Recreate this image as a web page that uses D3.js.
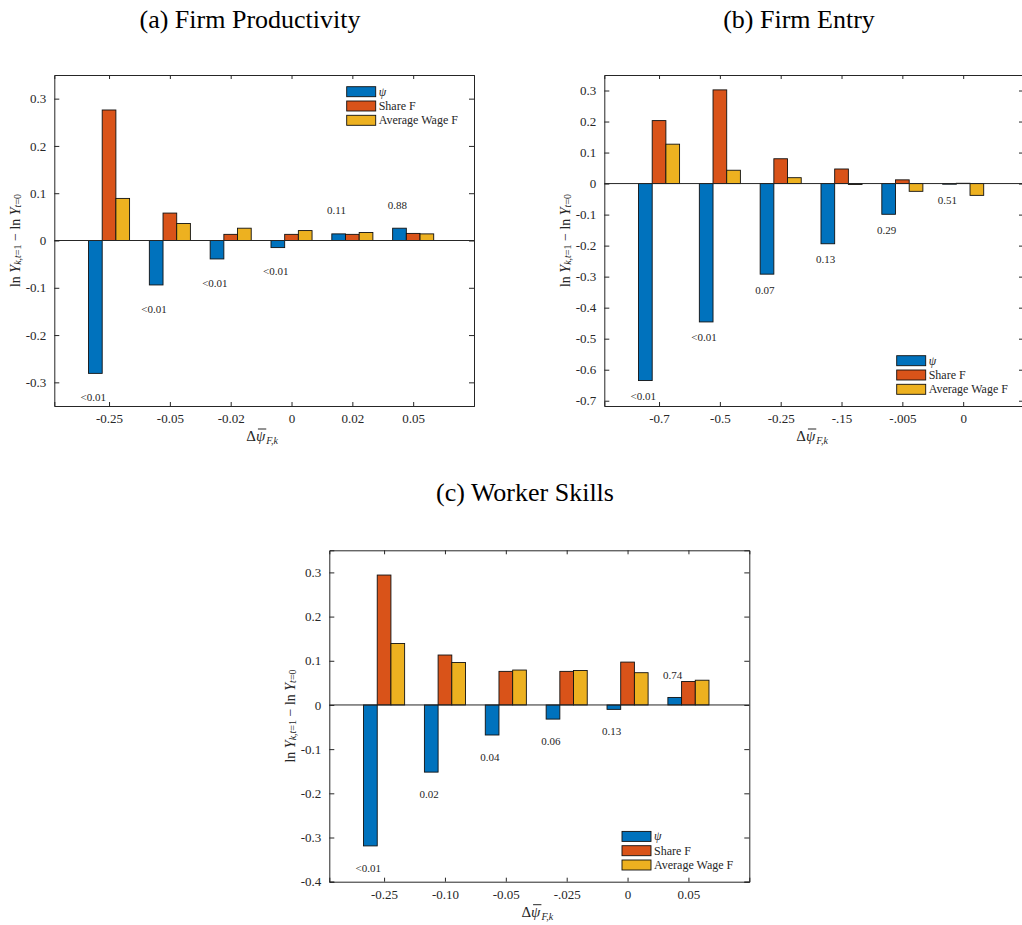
<!DOCTYPE html>
<html>
<head>
<meta charset="utf-8">
<script src="https://cdn.jsdelivr.net/npm/d3@7"></script>
<style>
  body { margin: 0; background: #fff; }
  svg { display: block; }
  text { font-family: "Liberation Serif", "Times New Roman", serif; fill: #262626; }
</style>
</head>
<body>
<svg id="chart" width="1022" height="925"></svg>
<script>
// ---- data ----
const seriesNames = ["\u03C8", "Share F", "Average Wage F"];
const colors = ["#0072BD", "#D95319", "#EDB120"];

// (a) Firm Productivity
const catsA = ["-0.25", "-0.05", "-0.02", "0", "0.02", "0.05"];
const psiA = [-0.281, -0.094, -0.039, -0.015, 0.014, 0.026];
const shareA = [0.276, 0.058, 0.013, 0.013, 0.013, 0.015];
const wageA = [0.089, 0.036, 0.026, 0.021, 0.017, 0.014];
const pvalA = ["<0.01", "<0.01", "<0.01", "<0.01", "0.11", "0.88"];
const yTicksA = [-0.3, -0.2, -0.1, 0, 0.1, 0.2, 0.3];

// (b) Firm Entry
const catsB = ["-0.7", "-0.5", "-0.25", "-.15", "-.005", "0"];
const psiB = [-0.635, -0.446, -0.292, -0.194, -0.099, -0.002];
const shareB = [0.203, 0.302, 0.080, 0.047, 0.012, 0.001];
const wageB = [0.127, 0.043, 0.019, -0.003, -0.025, -0.038];
const pvalB = ["<0.01", "<0.01", "0.07", "0.13", "0.29", "0.51"];
const yTicksB = [-0.7, -0.6, -0.5, -0.4, -0.3, -0.2, -0.1, 0, 0.1, 0.2, 0.3];

// (c) Worker Skills
const catsC = ["-0.25", "-0.10", "-0.05", "-.025", "0", "0.05"];
const psiC = [-0.319, -0.152, -0.068, -0.032, -0.010, 0.017];
const shareC = [0.294, 0.113, 0.076, 0.076, 0.097, 0.053];
const wageC = [0.139, 0.096, 0.079, 0.078, 0.073, 0.056];
const pvalC = ["<0.01", "0.02", "0.04", "0.06", "0.13", "0.74"];
const yTicksC = [-0.4, -0.3, -0.2, -0.1, 0, 0.1, 0.2, 0.3];

const svg = d3.select("#chart");
const axisColor = "#262626";
const barW = 0.225;   // bar width in category units

const panels = [
  {title: "(a) Firm Productivity", titleX: 250, titleY: 28,
   box: {left: 54.3, right: 474, top: 75, bottom: 406},
   ydom: [-0.35, 0.35], yticks: yTicksA, cats: catsA,
   vals: [psiA, shareA, wageA], pvals: pvalA, legend: "top"},
  {title: "(b) Firm Entry", titleX: 799, titleY: 28,
   box: {left: 604.3, right: 1024, top: 75, bottom: 406},
   ydom: [-0.717, 0.35], yticks: yTicksB, cats: catsB,
   vals: [psiB, shareB, wageB], pvals: pvalB, legend: "bottom"},
  {title: "(c) Worker Skills", titleX: 525, titleY: 501,
   box: {left: 329.3, right: 749.3, top: 550.3, bottom: 881.7},
   ydom: [-0.4, 0.35], yticks: yTicksC, cats: catsC,
   vals: [psiC, shareC, wageC], pvals: pvalC, legend: "bottom"}
];

const fmt = d => d === 0 ? "0" : String(+d.toFixed(1));

panels.forEach(drawPanel);

function drawPanel(p) {
  const b = p.box;
  const x = d3.scaleLinear().domain([0.1, 7]).range([b.left, b.right]);
  const y = d3.scaleLinear().domain(p.ydom).range([b.bottom, b.top]);
  const idx = d3.range(1, p.cats.length + 1);

  svg.append("text")
    .attr("x", p.titleX).attr("y", p.titleY)
    .attr("text-anchor", "middle")
    .style("font-size", "26px").style("fill", "#000")
    .text(p.title);

  const g = svg.append("g");

  // bars
  p.vals.forEach((vals, s) => {
    g.append("g").selectAll("rect")
      .data(vals)
      .join("rect")
      .attr("x", (v, i) => x(idx[i] + (s - 1.5) * barW))
      .attr("width", x(barW) - x(0))
      .attr("y", v => y(Math.max(0, v)))
      .attr("height", v => Math.abs(y(v) - y(0)))
      .attr("fill", colors[s])
      .attr("stroke", "#111")
      .attr("stroke-width", 0.9);
  });

  // baseline
  g.append("line")
    .attr("x1", b.left).attr("x2", b.right)
    .attr("y1", y(0)).attr("y2", y(0))
    .attr("stroke", axisColor).attr("stroke-width", 1);

  // p-value annotations
  g.append("g").selectAll("text")
    .data(p.pvals)
    .join("text")
    .attr("x", (t, i) => x(idx[i] - barW - 0.035))
    .attr("y", (t, i) => {
      const v = p.vals[0][i];
      return y(v < 0 ? v - 0.05 : v + 0.05);
    })
    .attr("text-anchor", "middle")
    .attr("dominant-baseline", "central")
    .style("font-size", "11px")
    .text(t => t);

  // axes (MATLAB style: box on, ticks inside)
  const xAxis = d3.axisBottom(x).tickValues(idx).tickFormat((d, i) => p.cats[i]).tickSize(-4).tickPadding(8);
  const xTop = d3.axisTop(x).tickValues(idx).tickFormat("").tickSize(-4);
  const yAxis = d3.axisLeft(y).tickValues(p.yticks).tickFormat(fmt).tickSize(-5).tickPadding(8);
  const yRight = d3.axisRight(y).tickValues(p.yticks).tickFormat("").tickSize(-5);

  const ax = [
    g.append("g").attr("transform", `translate(0,${b.bottom})`).call(xAxis),
    g.append("g").attr("transform", `translate(0,${b.top})`).call(xTop),
    g.append("g").attr("transform", `translate(${b.left},0)`).call(yAxis),
    g.append("g").attr("transform", `translate(${b.right},0)`).call(yRight)
  ];
  ax.forEach(a => {
    a.select(".domain").attr("stroke", axisColor);
    a.selectAll(".tick line").attr("stroke", axisColor);
    a.selectAll(".tick text")
      .style("font-family", "'Liberation Serif', serif")
      .style("font-size", "13px")
      .attr("fill", axisColor);
  });

  // y label
  const cy = (b.top + b.bottom) / 2;
  const yl = g.append("text")
    .attr("transform", `translate(${b.left - 39},${cy}) rotate(-90)`)
    .attr("text-anchor", "middle")
    .attr("dominant-baseline", "central")
    .style("font-size", "14px");
  yl.append("tspan").text("ln ");
  yl.append("tspan").style("font-style", "italic").text("Y");
  yl.append("tspan").attr("baseline-shift", "-25%").style("font-size", "10px").style("font-style", "italic").text("k,t");
  yl.append("tspan").attr("baseline-shift", "-25%").style("font-size", "10px").text("=1");
  yl.append("tspan").text(" \u2212 ln ");
  yl.append("tspan").style("font-style", "italic").text("Y");
  yl.append("tspan").attr("baseline-shift", "-25%").style("font-size", "10px").style("font-style", "italic").text("t");
  yl.append("tspan").attr("baseline-shift", "-25%").style("font-size", "10px").text("=0");

  // x label: Δ ψ(bar) _{F,k}
  const xl = g.append("text")
    .attr("x", (b.left + b.right) / 2 - 2).attr("y", b.bottom + 35)
    .attr("text-anchor", "middle")
    .style("font-size", "15px");
  xl.append("tspan").text("\u0394");
  xl.append("tspan").style("font-style", "italic").text("\u03C8");
  xl.append("tspan").attr("dx", 1).attr("baseline-shift", "-25%").style("font-size", "10px").style("font-style", "italic").text("F,k");
  const ext = xl.node().getExtentOfChar(1);
  g.append("line")
    .attr("x1", ext.x + 2).attr("x2", ext.x + ext.width + 1)
    .attr("y1", ext.y + 1).attr("y2", ext.y + 1)
    .attr("stroke", axisColor).attr("stroke-width", 1);

  // legend
  const lx = b.right - 127.3;
  const ly0 = p.legend === "top" ? b.top + 16.7 : b.bottom - 16.7 - 2 * 14.3;
  const lg = g.append("g");
  seriesNames.forEach((name, s) => {
    const yy = ly0 + s * 14.3;
    lg.append("rect")
      .attr("x", lx).attr("y", yy - 5)
      .attr("width", 29).attr("height", 10)
      .attr("fill", colors[s]).attr("stroke", "#111").attr("stroke-width", 0.9);
    lg.append("text")
      .attr("x", lx + 32).attr("y", yy)
      .attr("dominant-baseline", "central")
      .style("font-size", "12px")
      .style("font-style", s === 0 ? "italic" : "normal")
      .text(name);
  });
}
</script>
</body>
</html>
